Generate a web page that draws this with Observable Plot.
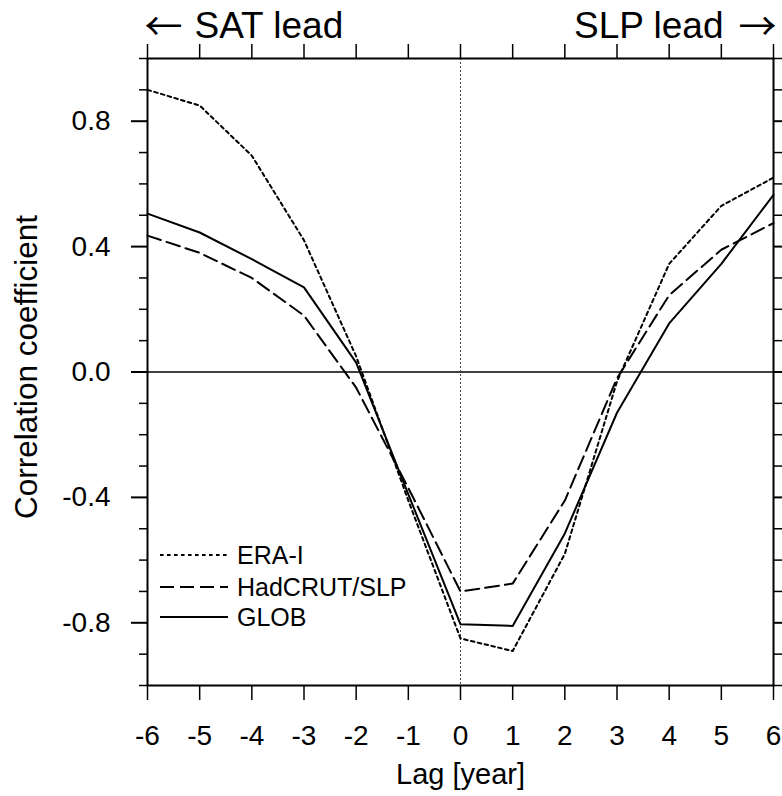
<!DOCTYPE html>
<html>
<head>
<meta charset="utf-8">
<script src="https://cdn.jsdelivr.net/npm/d3@7"></script>
<script src="https://cdn.jsdelivr.net/npm/@observablehq/plot@0.6"></script>
<style>
  html, body { margin: 0; padding: 0; background: #fff; }
  svg { display: block; }
</style>
</head>
<body>
<script>
// ---- data ----
const lags = [-6, -5, -4, -3, -2, -1, 0, 1, 2, 3, 4, 5, 6];
const eraI    = [0.90, 0.85, 0.69, 0.42, 0.05, -0.41, -0.85, -0.89, -0.58, -0.03, 0.345, 0.53, 0.62];
const hadcrut = [0.435, 0.38, 0.30, 0.18, -0.05, -0.37, -0.70, -0.675, -0.41, -0.02, 0.245, 0.39, 0.475];
const glob    = [0.505, 0.445, 0.36, 0.27, 0.03, -0.39, -0.805, -0.81, -0.515, -0.13, 0.155, 0.345, 0.565];

const seriesNames = ["ERA-I", "HadCRUT/SLP", "GLOB"];
const seriesDash = ["3.6,3.4", "14,6", null];

const xTicks = [-6, -5, -4, -3, -2, -1, 0, 1, 2, 3, 4, 5, 6];
const yMajorTicks = [-0.8, -0.4, 0, 0.4, 0.8];
const yMinorTicks = [-1, -0.9, -0.7, -0.6, -0.5, -0.3, -0.2, -0.1, 0.1, 0.2, 0.3, 0.5, 0.6, 0.7, 0.9, 1];

const xLabel = "Lag [year]";
const yLabel = "Correlation coefficient";
const leftArrow = "\u2190", leftNote = "SAT lead";
const rightArrow = "\u2192", rightNote = "SLP lead";

// ---- build tables ----
const seriesValues = [eraI, hadcrut, glob];
const tables = seriesValues.map(vals => lags.map((lag, i) => ({lag, value: vals[i]})));

const lineMarks = tables.map((t, i) => Plot.line(t, {
  x: "lag", y: "value", stroke: "black", strokeWidth: 2,
  strokeDasharray: seriesDash[i] || undefined
}));

const font = "'Liberation Sans', Arial, Helvetica, sans-serif";
const arrowFont = "'Noto Sans CJK SC', 'DejaVu Sans', sans-serif";

const chart = Plot.plot({
  width: 782,
  height: 796,
  marginLeft: 147,
  marginRight: 9,
  marginTop: 58,
  marginBottom: 111,
  style: {fontFamily: font, color: "black", background: "white"},
  x: {domain: [-6, 6]},
  y: {domain: [-1, 1]},
  marks: [
    Plot.ruleY([0], {stroke: "black", strokeWidth: 1.4}),
    Plot.ruleX([0], {stroke: "#444", strokeWidth: 1, strokeDasharray: "2,2"}),
    ...lineMarks,
    Plot.axisY(yMajorTicks, {anchor: "left", tickSize: 16, tickPadding: 21, strokeWidth: 2,
      tickFormat: d => d.toFixed(1), fontSize: 28, label: null}),
    Plot.axisY(yMinorTicks, {anchor: "left", tickSize: 8, strokeWidth: 1.5, tickFormat: () => "", label: null}),
    Plot.axisY(yMajorTicks, {anchor: "right", tickSize: 16, strokeWidth: 2, tickFormat: () => "", label: null}),
    Plot.axisY(yMinorTicks, {anchor: "right", tickSize: 8, strokeWidth: 1.5, tickFormat: () => "", label: null}),
    Plot.axisX(xTicks, {anchor: "bottom", tickSize: 15, tickPadding: 25, strokeWidth: 1.5,
      tickFormat: d => String(d), fontSize: 28, label: null}),
    Plot.axisX(xTicks, {anchor: "top", tickSize: 15, strokeWidth: 1.5, tickFormat: () => "", label: null}),
    Plot.frame({stroke: "black", strokeWidth: 2}),
    // top annotations
    Plot.text([leftArrow], {frameAnchor: "top-left", textAnchor: "start", lineAnchor: "middle",
      dx: -3, dy: -31, fontSize: 38, fontFamily: arrowFont, fill: "black"}),
    Plot.text([leftNote], {frameAnchor: "top-left", textAnchor: "start", lineAnchor: "bottom",
      dx: 47, dy: -21, fontSize: 37, fill: "black"}),
    Plot.text([rightArrow], {frameAnchor: "top-right", textAnchor: "end", lineAnchor: "middle",
      dx: 3, dy: -31, fontSize: 38, fontFamily: arrowFont, fill: "black"}),
    Plot.text([rightNote], {frameAnchor: "top-right", textAnchor: "end", lineAnchor: "bottom",
      dx: -50, dy: -21, fontSize: 37, fill: "black"}),
    // axis titles
    Plot.text([xLabel], {frameAnchor: "bottom", lineAnchor: "bottom", dy: 98, fontSize: 29, fill: "black"}),
    Plot.text([yLabel], {frameAnchor: "left", textAnchor: "middle", lineAnchor: "middle", rotate: -90,
      dx: -121, dy: -5, fontSize: 31.5, fill: "black"})
  ]
});

// ---- legend (inside the frame, lower-left) ----
const svg = d3.select(chart);
const frameLeft = 147, frameTop = 58;
const leg = svg.append("g").attr("font-family", font).attr("text-anchor", "start");
const rowY = [497, 529, 559]; // offsets from top of frame
seriesNames.forEach((name, i) => {
  const y = frameTop + rowY[i];
  leg.append("line")
    .attr("x1", frameLeft + 13).attr("x2", frameLeft + 81)
    .attr("y1", y).attr("y2", y)
    .attr("stroke", "black").attr("stroke-width", 2)
    .attr("stroke-dasharray", seriesDash[i] || null);
  leg.append("text")
    .attr("x", frameLeft + 90).attr("y", y)
    .attr("dy", "0.35em")
    .attr("text-anchor", "start")
    .attr("font-size", 25)
    .attr("fill", "black")
    .text(name);
});

document.body.append(chart);
</script>
</body>
</html>
